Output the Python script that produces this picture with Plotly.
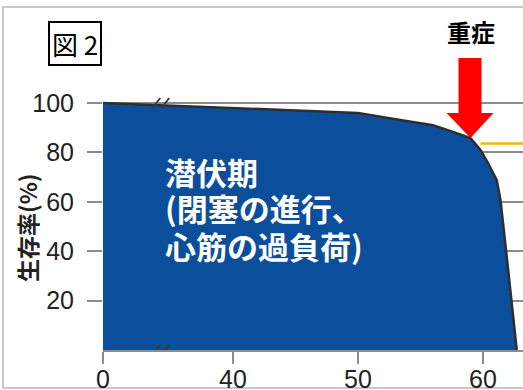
import plotly.graph_objects as go

# ---- data ----
ages = [0, 40, 50, 53.5, 56, 57.6, 59, 59.8, 60.4, 61.1, 61.4, 61.9, 62.7]
survival = [100, 98, 96, 93, 91, 88.3, 85.8, 81, 75.7, 68.8, 60.7, 37.7, 0]
x_tick_ages = [0, 40, 50, 60]
x_tick_labels = ["0", "40", "50", "60"]
y_tick_vals = [20, 40, 60, 80, 100]
severe_age, severe_surv = 59.0, 85.8        # arrow tip
severe_line_ages = [59.8, 64]
severe_line_surv = [83.6, 83.6]
phase_lines = ["潜伏期", "(閉塞の進行、", "心筋の過負荷)"]
phase_line_y = [72.1, 57.5, 42.5]

# broken axis: 0..40 compressed into a short segment
BREAK_START = 29.6
def disp(a):
    return a if a >= 40 else BREAK_START + a * (40 - BREAK_START) / 40

dx = [disp(a) for a in ages]

BLUE = "#0b4f9c"
GRID = "#8c8c8c"
L, R, T, B = 103, 0, 0, 40
W, H = 523, 390
PW, PH = W - L - R, H - T - B

fig = go.Figure()
# filled survival region
fig.add_trace(go.Scatter(x=[dx[0]] + dx + [dx[0]], y=[0] + survival + [0],
                         mode="lines", fill="toself", fillcolor=BLUE,
                         line=dict(color=BLUE, width=0), hoverinfo="skip"))
# dark outline along the curve
fig.add_trace(go.Scatter(x=dx, y=survival, mode="lines",
                         line=dict(color="#2e2e2e", width=2.5), hoverinfo="skip"))
# yellow line
fig.add_trace(go.Scatter(x=[disp(a) for a in severe_line_ages], y=severe_line_surv,
                         mode="lines", line=dict(color="#f2b705", width=2.5),
                         hoverinfo="skip"))

shapes = []
# red arrow (pixel path anchored at tip)
shapes.append(dict(type="path", xref="x", yref="y", xsizemode="pixel", ysizemode="pixel",
                   xanchor=disp(severe_age), yanchor=severe_surv,
                   path="M 0 0 L -24 25 L -12 25 L -12 80 L 11 80 L 11 25 L 23 25 Z",
                   fillcolor="#ff0000", line=dict(width=0), layer="above"))
# axis break marks
for yv in (0, 100):
    for off in (0, 9):
        shapes.append(dict(type="line", xref="x", yref="y", xsizemode="pixel", ysizemode="pixel",
                           xanchor=disp(17), yanchor=yv,
                           x0=-6 + off, y0=-5, x1=2 + off, y1=5,
                           line=dict(color="#3a3a3a", width=2), layer="above"))
# outer light border of the picture
shapes.append(dict(type="rect", xref="paper", yref="paper",
                   x0=(3 - L) / PW, x1=(530 - L) / PW,
                   y0=(H - B - 388) / PH, y1=(H - B - 7) / PH,
                   line=dict(color="#c8c8c8", width=2), fillcolor="rgba(0,0,0,0)", layer="below"))

annotations = []
for txt, yv in zip(phase_lines, phase_line_y):
    annotations.append(dict(x=disp(18.5), y=yv, xref="x", yref="y", xanchor="left",
                            yanchor="middle", text=txt, showarrow=False,
                            font=dict(family="Noto Sans CJK JP", size=31, color="white",
                                      weight="bold")))
annotations += [
    dict(x=disp(severe_age), y=severe_surv, xref="x", yref="y", yshift=107, xanchor="center",
         yanchor="middle", text="重症", showarrow=False,
         font=dict(family="Noto Sans CJK JP", size=24, color="black", weight="bold")),
    dict(x=(75 - L) / PW, y=(H - B - 43) / PH, xref="paper", yref="paper", xanchor="center",
         yanchor="middle", text="図 2", showarrow=False, bordercolor="black", borderwidth=2,
         borderpad=2, font=dict(family="Noto Sans CJK JP", size=26, color="black")),
    dict(x=(27 - L) / PW, y=(H - B - 228) / PH, xref="paper", yref="paper", xanchor="center",
         yanchor="middle", textangle=-90, text="生存率(%)", showarrow=False,
         font=dict(family="Noto Sans CJK JP", size=23, color="#222", weight="bold")),
    # x tick labels placed as text so they sit at the picture's height
]

fig.update_layout(
    width=W, height=H, margin=dict(l=L, r=R, t=T, b=B, autoexpand=False),
    paper_bgcolor="white", plot_bgcolor="white", showlegend=False,
    shapes=shapes, annotations=annotations,
    xaxis=dict(range=[BREAK_START, BREAK_START + PW / 12.5], tickvals=[disp(a) for a in x_tick_ages],
               ticktext=x_tick_labels, showgrid=False, zeroline=False, showline=True,
               linecolor=GRID, linewidth=1.5, ticks="outside", ticklen=12, tickcolor=GRID,
               tickwidth=1.5, ticklabelstandoff=-6, automargin=False,
               tickfont=dict(family="Liberation Sans", size=25, color="#222")),
    yaxis=dict(range=[0, PH / 2.47], tickvals=y_tick_vals, showgrid=True, gridcolor=GRID,
               gridwidth=1.5, zeroline=False, showline=False, ticks="outside", ticklen=15,
               tickcolor=GRID, tickwidth=1.5, ticklabelstandoff=8, automargin=False,
               tickfont=dict(family="Liberation Sans", size=25, color="#222")),
)

fig.write_html("out.html", config={"displayModeBar": False},
               post_script="document.body.style.margin='0';")
